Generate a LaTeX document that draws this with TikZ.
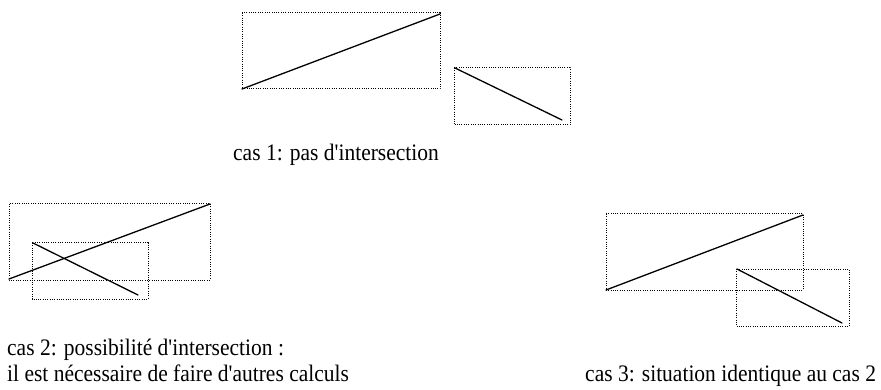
\documentclass[tikz,border=0pt]{standalone}
\usepackage{fontspec}
\setmainfont{Liberation Serif}
\begin{document}
\begin{tikzpicture}[x=1pt,y=-1pt,
  boxline/.style={line width=1pt, dash pattern=on 1pt off 1.3pt, black},
  segline/.style={line width=1.3pt, line cap=round},
  caption/.style={anchor=base west, inner sep=0pt, transform shape, yscale=1.1, font=\fontsize{21.5}{23}\selectfont, align=left}]
\useasboundingbox (0,0) rectangle (881,390);
% cas 1
\coordinate (A1) at (242,13);  \coordinate (B1) at (440,89);
\coordinate (C1) at (454,68);  \coordinate (D1) at (570,125);
\draw[boxline] (A1) rectangle (B1);
\draw[boxline] (C1) rectangle (D1);
\coordinate (p1) at (242,89); \coordinate (q1) at (440,14);
\coordinate (r1) at (455,68); \coordinate (s1) at (562,120);
\draw[segline] (p1) -- (q1);
\draw[segline] (r1) -- (s1);
\node[caption] (t1) at (233,161) {cas 1: pas d\textquotesingle intersection};
% cas 2
\coordinate (A2) at (9,204);  \coordinate (B2) at (210,280);
\coordinate (C2) at (32,243); \coordinate (D2) at (148,299);
\draw[boxline] (A2) rectangle (B2);
\draw[boxline] (C2) rectangle (D2);
\coordinate (p2) at (9,279); \coordinate (q2) at (210,204);
\coordinate (r2) at (33,243); \coordinate (s2) at (138,295);
\draw[segline] (p2) -- (q2);
\draw[segline] (r2) -- (s2);
\node[caption] (t2) at (7,381) {cas 2: possibilité d\textquotesingle intersection :\\il est nécessaire de faire d\textquotesingle autres calculs};
% cas 3
\coordinate (A3) at (606,214); \coordinate (B3) at (803,290);
\coordinate (C3) at (736,269); \coordinate (D3) at (849,326);
\draw[boxline] (A3) rectangle (B3);
\draw[boxline] (C3) rectangle (D3);
\coordinate (p3) at (606,290); \coordinate (q3) at (803,215);
\coordinate (r3) at (737,269); \coordinate (s3) at (842,323);
\draw[segline] (p3) -- (q3);
\draw[segline] (r3) -- (s3);
\node[caption] (t3) at (585,381) {cas 3: situation identique au cas 2};
\end{tikzpicture}
\end{document}
